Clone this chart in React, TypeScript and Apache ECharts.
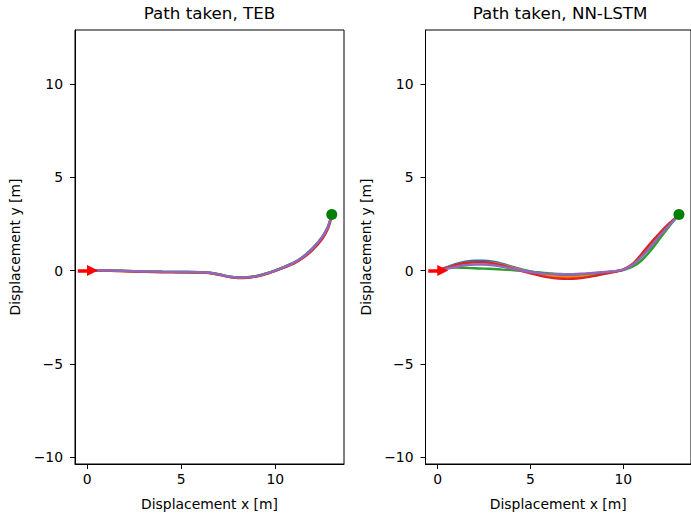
import React, { useEffect, useRef } from 'react';
import * as echarts from 'echarts';

// ---- data ----
const xTicks = [0, 5, 10];
const yTicks = [-10, -5, 0, 5, 10];
const xRange = [-0.65, 13.65];
const yRange = [-10.37, 12.89];
const titles = ['Path taken, TEB', 'Path taken, NN-LSTM'];
const seriesColors = ['#1f77b4', '#ff7f0e', '#2ca02c', '#d62728', '#9467bd'];
const goal = [13, 3];
const arrowStart = [-0.5, 0];
const arrowEnd = [0.28, 0];

const tebX = [0, 0.5, 1, 1.5, 2, 3, 4, 5, 6, 6.5, 7, 7.5, 8, 8.5, 9, 9.5, 10, 10.5, 11, 11.5, 12, 12.5, 12.8, 13];
const tebBlue = [0, 0.01, 0.0, -0.01, -0.02, -0.05, -0.07, -0.08, -0.09, -0.12, -0.21, -0.32, -0.38, -0.37, -0.3, -0.17, 0.0, 0.2, 0.42, 0.75, 1.2, 1.8, 2.35, 3.0];
const tebOrange = [0, 0.01, 0.0, -0.02, -0.03, -0.06, -0.08, -0.09, -0.1, -0.13, -0.22, -0.33, -0.39, -0.38, -0.31, -0.18, -0.01, 0.19, 0.41, 0.73, 1.17, 1.76, 2.31, 3.0];
const tebGreen = [0, 0.0, 0.0, -0.01, -0.02, -0.05, -0.07, -0.08, -0.09, -0.12, -0.2, -0.31, -0.37, -0.36, -0.29, -0.16, 0.01, 0.21, 0.43, 0.76, 1.21, 1.81, 2.36, 3.0];
const tebRed = [0, 0.0, -0.01, -0.03, -0.04, -0.07, -0.09, -0.1, -0.11, -0.14, -0.23, -0.34, -0.4, -0.39, -0.32, -0.19, -0.02, 0.17, 0.38, 0.69, 1.12, 1.7, 2.25, 2.95];
const tebPurple = [0, 0.01, 0.0, -0.01, -0.02, -0.05, -0.07, -0.08, -0.09, -0.12, -0.21, -0.32, -0.38, -0.37, -0.3, -0.17, 0.0, 0.2, 0.42, 0.75, 1.2, 1.8, 2.35, 3.0];

const nnX = [0, 0.5, 1, 1.5, 2, 2.5, 3, 3.5, 4, 4.5, 5, 5.5, 6, 6.5, 7, 7.5, 8, 8.5, 9, 9.5, 10, 10.5, 11, 11.5, 12, 12.5, 13];
const nnBlue = [0, 0.18, 0.35, 0.47, 0.53, 0.53, 0.47, 0.35, 0.2, 0.07, -0.05, -0.13, -0.2, -0.25, -0.27, -0.26, -0.22, -0.15, -0.1, -0.05, 0.05, 0.3, 0.75, 1.3, 1.9, 2.45, 3.0];
const nnOrange = [0, 0.15, 0.3, 0.4, 0.45, 0.45, 0.4, 0.3, 0.17, 0.03, -0.08, -0.18, -0.27, -0.33, -0.35, -0.33, -0.27, -0.2, -0.12, -0.06, 0.05, 0.3, 0.8, 1.35, 1.95, 2.5, 3.0];
const nnGreen = [0, 0.12, 0.16, 0.14, 0.12, 0.1, 0.08, 0.05, 0.02, -0.02, -0.07, -0.11, -0.15, -0.18, -0.2, -0.2, -0.18, -0.14, -0.1, -0.05, 0.02, 0.2, 0.55, 1.1, 1.75, 2.4, 3.0];
const nnRed = [0, 0.15, 0.3, 0.4, 0.44, 0.44, 0.38, 0.27, 0.12, -0.02, -0.15, -0.27, -0.37, -0.43, -0.45, -0.43, -0.37, -0.28, -0.18, -0.08, 0.05, 0.35, 0.9, 1.5, 2.05, 2.55, 3.0];
const nnPurple = [0, 0.1, 0.2, 0.28, 0.32, 0.32, 0.28, 0.2, 0.1, 0.0, -0.08, -0.14, -0.18, -0.2, -0.2, -0.19, -0.16, -0.12, -0.08, -0.04, 0.05, 0.3, 0.75, 1.3, 1.9, 2.45, 3.0];

const tebRuns = [tebBlue, tebOrange, tebGreen, tebRed, tebPurple];
const nnRuns = [nnBlue, nnOrange, nnGreen, nnRed, nnPurple];

const FONT = 'DejaVu Sans';
const minus = (v: number) => String(v).replace('-', '\u2212');

const grids = [
  { left: 75, top: 30, width: 269, height: 435 },
  { left: 425.5, top: 30, width: 269, height: 435 },
];

export default function App() {
  const ref = useRef<HTMLDivElement>(null);
  useEffect(() => {
    if (!ref.current) return;
    const chart = echarts.init(ref.current, null, { renderer: 'svg' });
    const xAxes: any[] = [];
    const yAxes: any[] = [];
    const series: any[] = [];
    const graphics: any[] = [];
    [tebRuns, nnRuns].forEach((runs, gi) => {
      const xs = gi === 0 ? tebX : nnX;
      xAxes.push({
        type: 'value', gridIndex: gi, min: xRange[0], max: xRange[1], position: 'bottom',
        name: 'Displacement x [m]', nameLocation: 'middle', nameGap: 33,
        nameTextStyle: { fontFamily: FONT, fontSize: 13.9, color: '#000' },
        axisLine: { show: true, onZero: false, lineStyle: { color: '#000', width: 1 } },
        axisTick: { show: true, length: 5, inside: false, customValues: xTicks, lineStyle: { color: '#000', width: 1 } },
        axisLabel: { show: true, customValues: xTicks, margin: 8, fontFamily: FONT, fontSize: 13.9, color: '#000', formatter: minus },
        splitLine: { show: false },
      });
      yAxes.push({
        type: 'value', gridIndex: gi, min: yRange[0], max: yRange[1], position: 'left',
        name: 'Displacement y [m]', nameLocation: 'middle', nameGap: 53, nameRotate: 90,
        nameTextStyle: { fontFamily: FONT, fontSize: 13.9, color: '#000' },
        axisLine: { show: true, onZero: false, lineStyle: { color: '#000', width: 1 } },
        axisTick: { show: true, length: 5, inside: false, customValues: yTicks, lineStyle: { color: '#000', width: 1 } },
        axisLabel: { show: true, customValues: yTicks, margin: 12, fontFamily: FONT, fontSize: 13.9, color: '#000', formatter: minus },
        splitLine: { show: false },
      });
      runs.forEach((ys, si) => {
        series.push({
          type: 'line', xAxisIndex: gi, yAxisIndex: gi,
          data: xs.map((x, i) => [x, ys[i]]),
          showSymbol: false, smooth: 0.3, silent: true,
          lineStyle: { color: seriesColors[si], width: 2.4, opacity: 1 },
          itemStyle: { color: seriesColors[si] },
          clip: true,
        });
      });
      series.push({
        type: 'lines', coordinateSystem: 'cartesian2d', xAxisIndex: gi, yAxisIndex: gi,
        data: [{ coords: [arrowStart, arrowEnd] }],
        symbol: ['none', 'triangle'], symbolSize: [11, 11],
        lineStyle: { color: '#ff0000', width: 3.5, opacity: 1 },
        itemStyle: { color: '#ff0000' },
        silent: true, z: 5,
      });
      series.push({
        type: 'scatter', xAxisIndex: gi, yAxisIndex: gi,
        data: [goal], symbol: 'circle', symbolSize: 11,
        itemStyle: { color: '#008000', opacity: 1 }, silent: true, z: 6,
      });
      graphics.push({
        left: grids[gi].left + grids[gi].width / 2,
        style: { text: titles[gi], fontFamily: FONT, fontSize: 16.7, fill: '#000', textAlign: 'center' },
      });
    });
    chart.setOption({
      animation: false,
      backgroundColor: '#fff',
      grid: grids.map((g) => ({ ...g, show: true, borderColor: '#000', borderWidth: 1, backgroundColor: 'transparent', containLabel: false })),
      xAxis: xAxes,
      yAxis: yAxes,
      series,
      graphic: graphics.map((g) => ({
        type: 'text', x: g.left, y: 13,
        style: { ...g.style, textVerticalAlign: 'middle' },
      })),
    });
    return () => chart.dispose();
  }, []);
  return <div ref={ref} style={{ position: 'fixed', left: 0, top: 0, width: 691, height: 516 }} />;
}
